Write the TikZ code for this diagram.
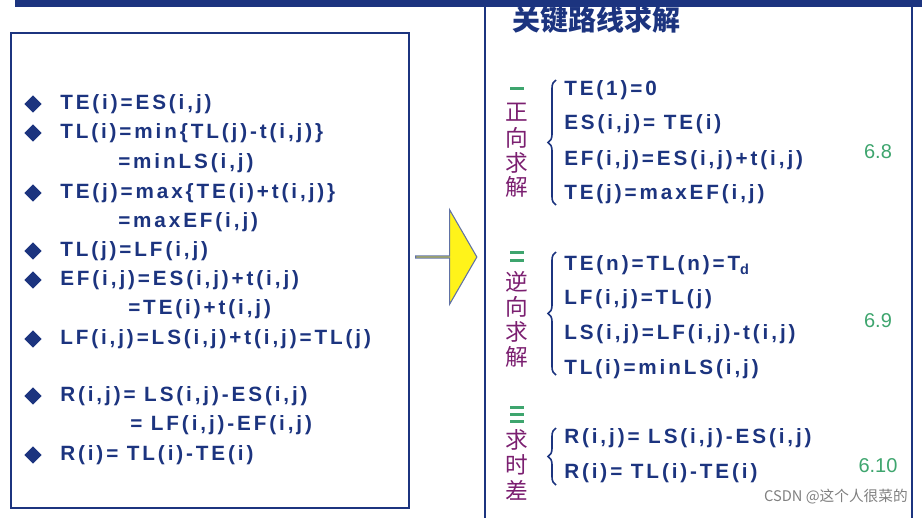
\documentclass[tikz,border=0pt]{standalone}
\usepackage{fontspec}
\setmainfont{Liberation Sans}
\newfontfamily\eqf[LetterSpace=14]{Liberation Sans}
\newfontfamily\cjk{Noto Sans CJK SC}
\usetikzlibrary{shapes.arrows,shapes.geometric,decorations.pathreplacing}
\definecolor{dblue}{HTML}{1C347F}
\definecolor{cpurp}{HTML}{7B1F70}
\definecolor{cgreen}{HTML}{3EA56E}
\tikzset{eq/.style={anchor=west,inner sep=0pt,text=dblue,font=\eqf\bfseries\fontsize{15.5}{15.5}\selectfont},
 dia/.style={diamond,fill=dblue,inner sep=0pt,minimum size=13pt},
 zh/.style={inner sep=0pt,text=cpurp,font=\cjk\fontsize{17}{17}\selectfont},
 num/.style={inner sep=0pt,text=cgreen,font=\fontsize{15}{15}\selectfont},
 br/.style={dblue,line width=1.2pt,decorate,decoration={brace,mirror,amplitude=6pt}}}
\begin{document}
\begin{tikzpicture}[x=0.75pt,y=-0.75pt]
\useasboundingbox (0,0) rectangle (922,518);
\fill[dblue] (15,0) rectangle (922,7);
\draw[dblue,line width=1.5pt] (11,33) rectangle (409,508);
\draw[dblue,line width=1.5pt] (485,7) -- (485,518);
\draw[dblue,line width=1.5pt] (912,7) -- (912,518);
\node[single arrow,fill=yellow!90!white,draw=dblue!70,line width=0.8pt,minimum height=46pt,minimum width=71pt,single arrow head extend=19pt,single arrow tip angle=120,inner sep=0pt,anchor=west] (arr) at (415,257) {};
% left
\foreach \y/\t/\n in {104/{TE(i)=ES(i,j)}/a1,133/{TL(i)=min\{TL(j)-t(i,j)\}}/a2,193/{TE(j)=max\{TE(i)+t(i,j)\}}/a3,251/{TL(j)=LF(i,j)}/a4,280/{EF(i,j)=ES(i,j)+t(i,j)}/a5,339/{LF(i,j)=LS(i,j)+t(i,j)=TL(j)}/a6,396/{R(i,j)= LS(i,j)-ES(i,j)}/a7,455/{R(i)= TL(i)-TE(i)}/a8}{
 \node[dia] (d\n) at (33,\y) {};
 \node[eq] (\n) at (60,\y) {\t};}
\node[eq] (b1) at (118,163) {=minLS(i,j)};
\node[eq] (b2) at (118,222) {=maxEF(i,j)};
\node[eq] (b3) at (128,309) {=TE(i)+t(i,j)};
\node[eq] (b4) at (130,425) {= LF(i,j)-EF(i,j)};
% right
\node[anchor=west,inner sep=0pt,text=dblue,font=\cjk\bfseries\fontsize{21}{21}\selectfont] (title) at (512,20) {关键路线求解};
\foreach \y/\t/\n in {90/{TE(1)=0}/r1,124/{ES(i,j)= TE(i)}/r2,160/{EF(i,j)=ES(i,j)+t(i,j)}/r3,194/{TE(j)=maxEF(i,j)}/r4,
 265/{TE(n)=TL(n)=T\textsubscript{d}}/r5,299/{LF(i,j)=TL(j)}/r6,334/{LS(i,j)=LF(i,j)-t(i,j)}/r7,369/{TL(i)=minLS(i,j)}/r8,
 438/{R(i,j)= LS(i,j)-ES(i,j)}/r9,473/{R(i)= TL(i)-TE(i)}/r10}{
 \node[eq] (\n) at (564,\y) {\t};}
\foreach \y/\t in {112/正,138/向,163/求,187/解,282/逆,307/向,332/求,357/解,440/求,465/时,490/差}{
 \node[zh] at (517,\y) {\t};}
\fill[cgreen] (510,87) rectangle (524,90);
\fill[cgreen] (510,251) rectangle (524,254); \fill[cgreen] (510,259) rectangle (524,262);
\fill[cgreen] (510,406) rectangle (524,409); \fill[cgreen] (510,413) rectangle (524,416); \fill[cgreen] (510,420) rectangle (524,423);
\draw[br] (556,80) -- (556,205);
\draw[br] (556,252) -- (556,375);
\draw[br] (556,428) -- (556,485);
\node[num] (n1) at (878,152) {6.8};
\node[num] (n2) at (878,321) {6.9};
\node[num] (n3) at (878,466) {6.10};
\node[anchor=east,inner sep=0pt,text=gray,font=\cjk\fontsize{11}{11}\selectfont] (wm) at (908,497) {CSDN @这个人很菜的};
\end{tikzpicture}
\end{document}
